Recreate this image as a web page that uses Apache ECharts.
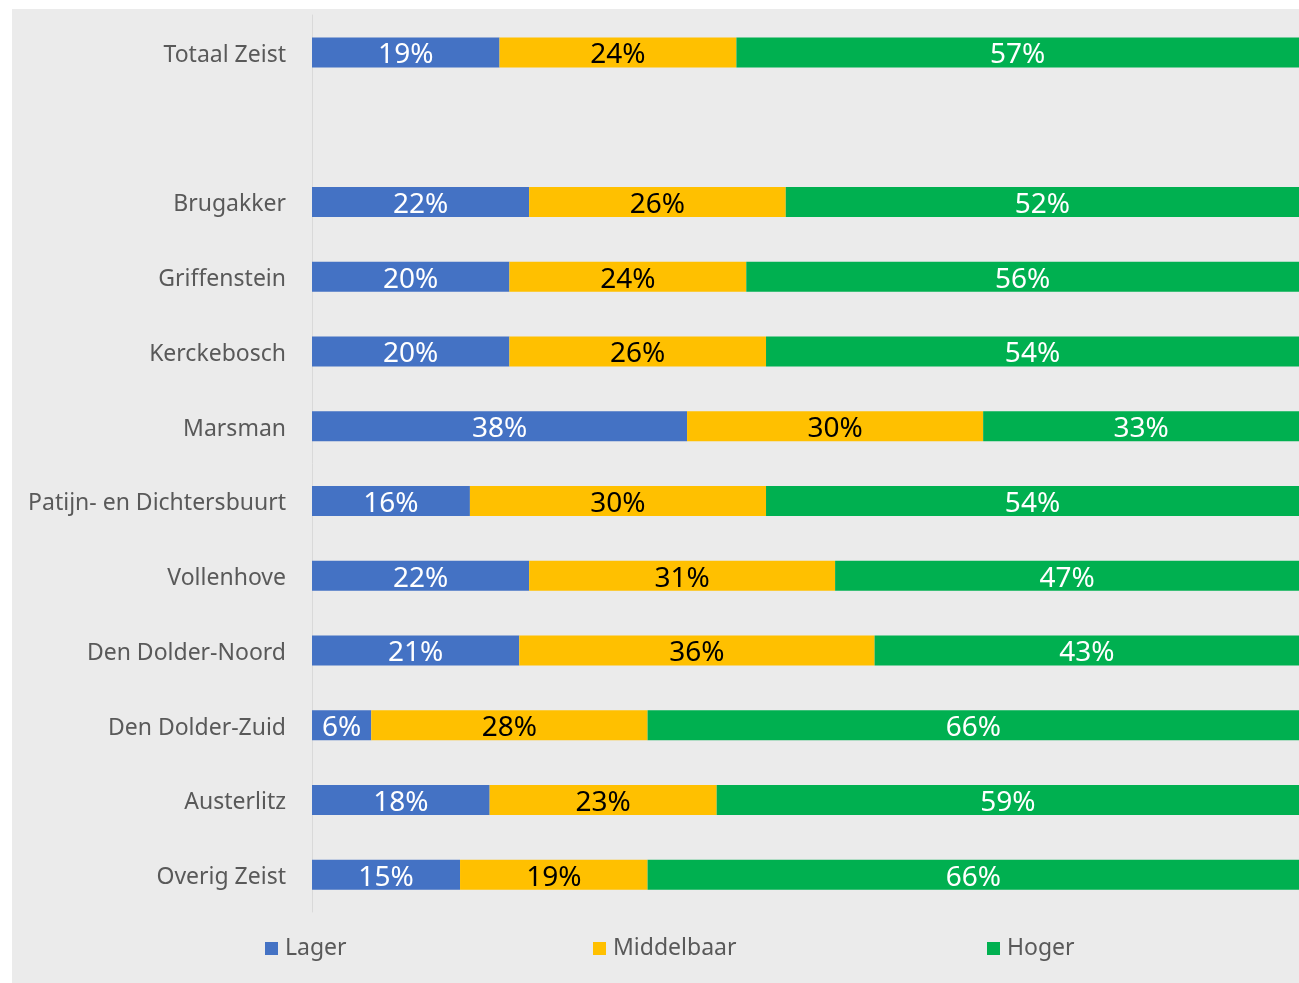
<!DOCTYPE html>
<html>
<head>
<meta charset="utf-8">
<script src="https://cdn.jsdelivr.net/npm/echarts@6/dist/echarts.min.js"></script>
<style>
html,body{margin:0;padding:0;background:#ffffff;}
#wrap{position:absolute;left:12px;top:9px;width:1287px;height:974px;background:#EBEBEB;}
#chart{width:1287px;height:974px;}
</style>
</head>
<body>
<div id="wrap"><div id="chart"></div></div>
<script>
const categories = ['Totaal Zeist', '', 'Brugakker', 'Griffenstein', 'Kerckebosch', 'Marsman',
  'Patijn- en Dichtersbuurt', 'Vollenhove', 'Den Dolder-Noord', 'Den Dolder-Zuid', 'Austerlitz', 'Overig Zeist'];
const lager      = [19, '-', 22, 20, 20, 38, 16, 22, 21, 6, 18, 15];
const middelbaar = [24, '-', 26, 24, 26, 30, 30, 31, 36, 28, 23, 19];
const hoger      = [57, '-', 52, 56, 54, 33, 54, 47, 43, 66, 59, 66];
const seriesNames = ['Lager', 'Middelbaar', 'Hoger'];
const colors = ['#4472C4', '#FFC000', '#00B050'];
const labelColors = ['#ffffff', '#000000', '#ffffff'];
const seriesData = [lager, middelbaar, hoger];

const FONT = 'Noto Sans';
const chart = echarts.init(document.getElementById('chart'));

const legendLefts = [248, 576, 970];
const legends = seriesNames.map((n, i) => ({
  data: [n],
  left: legendLefts[i],
  top: 923,
  itemWidth: 13,
  itemHeight: 13,
  icon: 'rect',
  itemGap: 0,
  textStyle: { fontFamily: FONT, fontSize: 23, color: '#595959', padding: [0, 0, 0, 2] }
}));

chart.setOption({
  animation: false,
  backgroundColor: 'transparent',
  textStyle: { fontFamily: FONT },
  legend: legends,
  grid: { left: 300, right: 0, top: 6, height: 897, containLabel: false },
  xAxis: {
    type: 'value', min: 0, max: 100, show: false
  },
  yAxis: {
    type: 'category',
    inverse: true,
    data: categories,
    axisTick: { show: false },
    axisLine: { show: true, lineStyle: { color: '#D9D9D9', width: 1 } },
    axisLabel: {
      margin: 26,
      formatter: v => '{c|' + v + '}',
      rich: { c: { fontFamily: FONT, fontSize: 23, color: '#595959', padding: [6, 0, 0, 0] } }
    }
  },
  series: seriesNames.map((n, i) => ({
    name: n,
    type: 'bar',
    stack: 'total',
    barWidth: 30,
    data: seriesData[i],
    itemStyle: { color: colors[i] },
    label: {
      show: true,
      position: 'inside',
      offset: [0, 3],
      fontFamily: FONT,
      fontSize: 28,
      color: labelColors[i],
      formatter: p => p.value + '%'
    }
  }))
});
</script>
</body>
</html>
